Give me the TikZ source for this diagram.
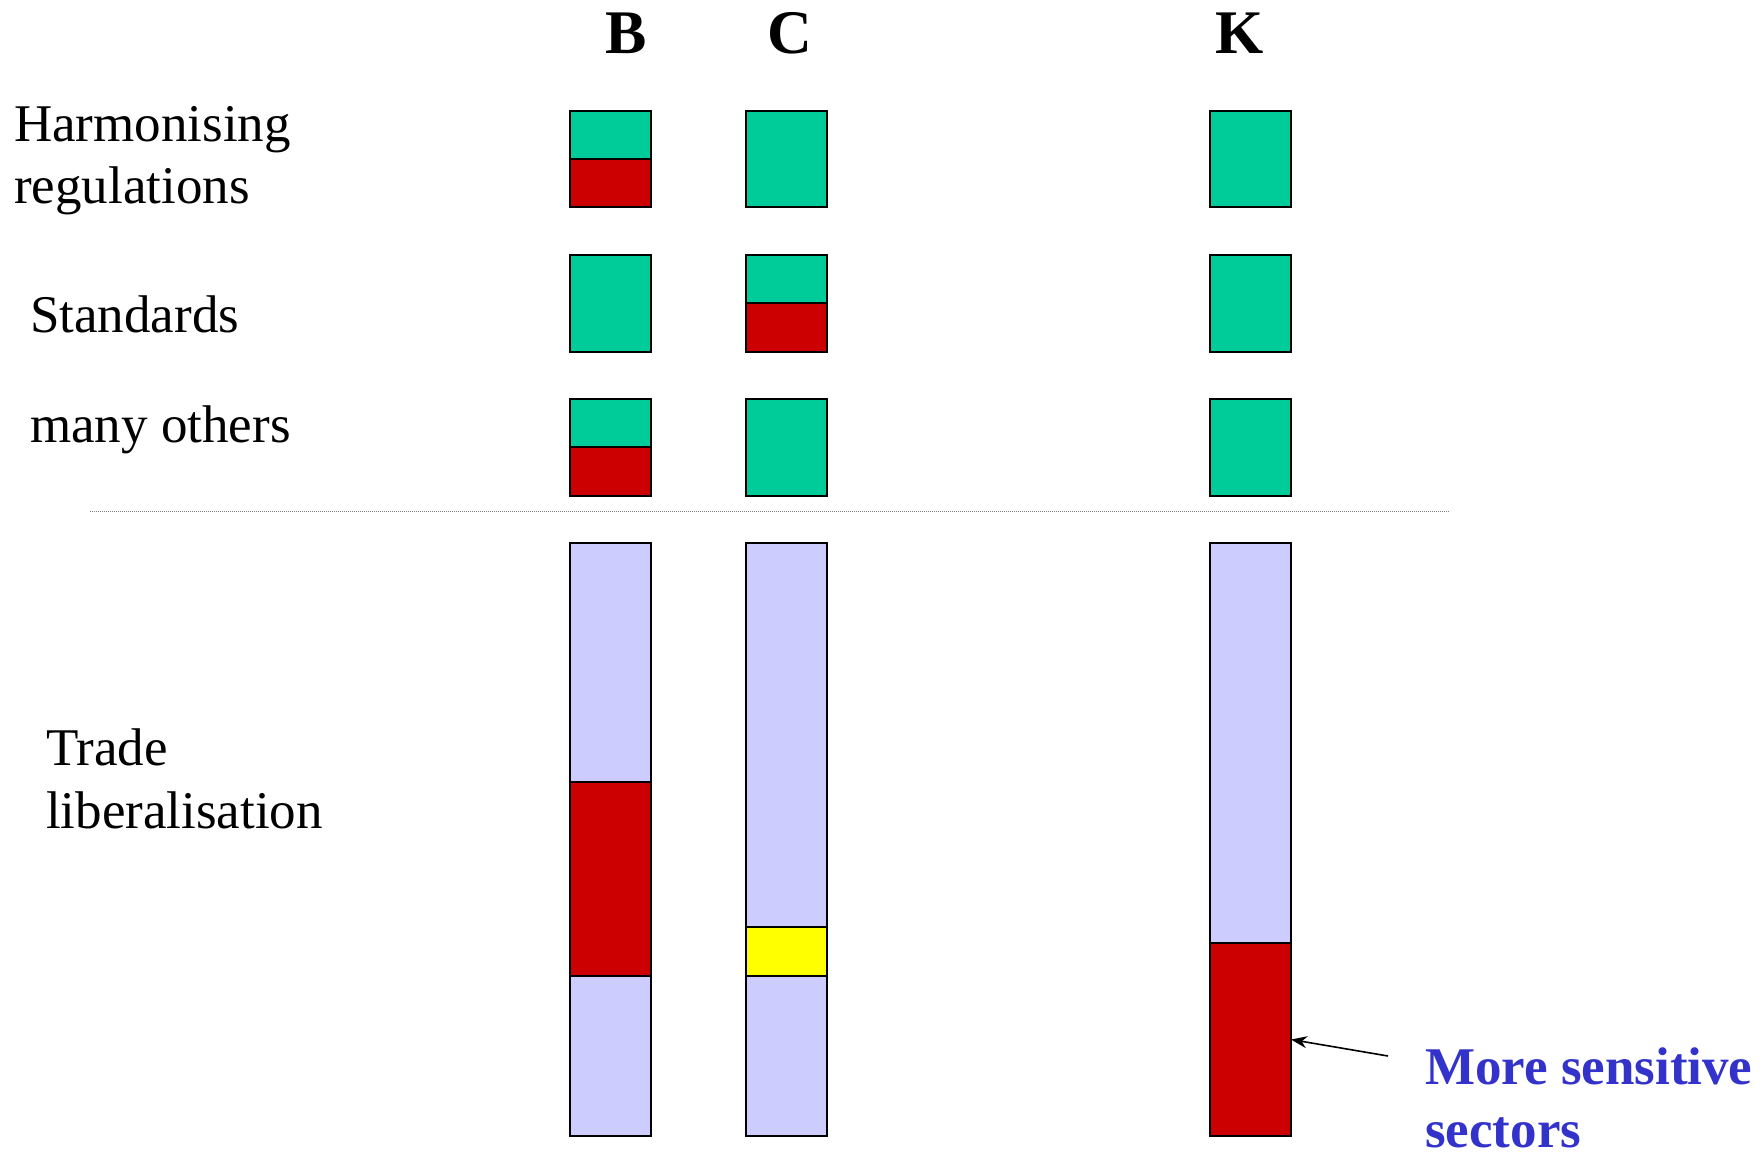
\documentclass[tikz,border=0pt]{standalone}
\usepackage{fontspec}
\setmainfont{Liberation Serif}
\usetikzlibrary{arrows.meta}
\definecolor{tgreen}{HTML}{00CC99}
\definecolor{tred}{HTML}{CC0000}
\definecolor{tlav}{HTML}{CCCCFF}
\definecolor{tyel}{HTML}{FFFF00}
\definecolor{tblue}{HTML}{3333CC}
\begin{document}
\begin{tikzpicture}[x=1pt,y=-1pt,
  bx/.style={draw=black,line width=1.6pt,inner sep=0pt,outer sep=0pt,minimum width=81pt,anchor=north west},
  lbl/.style={anchor=base west,inner sep=0pt,font=\fontsize{53}{62}\selectfont},
  head/.style={anchor=base,inner sep=0pt,font=\fontsize{62}{62}\selectfont\bfseries},
  note/.style={anchor=base west,inner sep=0pt,text=tblue,font=\fontsize{53}{63}\selectfont\bfseries}]
\useasboundingbox (0,0) rectangle (1763,1151);
\fill[white] (0,0) rectangle (1763,1151);
% headings
\node[head] (hB) at (626,53) {B};
\node[head] (hC) at (790,53) {C};
\node[head] (hK) at (1240,53) {K};
% labels
\node[lbl] (l1a) at (14,141) {Harmonising};
\node[lbl] (l1b) at (14,203) {regulations};
\node[lbl] (l2) at (30,332) {Standards};
\node[lbl] (l3) at (30,442) {many others};
\node[lbl] (l4a) at (46,765) {Trade};
\node[lbl] (l4b) at (46,828) {liberalisation};
% row 1
\node[bx,fill=tgreen,minimum height=48pt] (b1t) at (570,111) {};
\node[bx,fill=tred,minimum height=48pt] (b1b) at (570,159) {};
\node[bx,fill=tgreen,minimum height=96pt] (c1) at (746,111) {};
\node[bx,fill=tgreen,minimum height=96pt] (k1) at (1210,111) {};
% row 2
\node[bx,fill=tgreen,minimum height=97pt] (b2) at (570,255) {};
\node[bx,fill=tgreen,minimum height=48pt] (c2t) at (746,255) {};
\node[bx,fill=tred,minimum height=49pt] (c2b) at (746,303) {};
\node[bx,fill=tgreen,minimum height=97pt] (k2) at (1210,255) {};
% row 3
\node[bx,fill=tgreen,minimum height=48pt] (b3t) at (570,399) {};
\node[bx,fill=tred,minimum height=49pt] (b3b) at (570,447) {};
\node[bx,fill=tgreen,minimum height=97pt] (c3) at (746,399) {};
\node[bx,fill=tgreen,minimum height=97pt] (k3) at (1210,399) {};
% separator
\coordinate (sepL) at (90,511.5);
\coordinate (sepR) at (1450,511.5);
\draw[gray,line width=1pt,dash pattern=on 1pt off 1pt] (sepL) -- (sepR);
% trade bars
\node[bx,fill=tlav,minimum height=239pt] (bb1) at (570,543) {};
\node[bx,fill=tred,minimum height=194pt] (bb2) at (570,782) {};
\node[bx,fill=tlav,minimum height=160pt] (bb3) at (570,976) {};
\node[bx,fill=tlav,minimum height=384pt] (cb1) at (746,543) {};
\node[bx,fill=tyel,minimum height=49pt] (cb2) at (746,927) {};
\node[bx,fill=tlav,minimum height=160pt] (cb3) at (746,976) {};
\node[bx,fill=tlav,minimum height=400pt] (kb1) at (1210,543) {};
\node[bx,fill=tred,minimum height=193pt] (kb2) at (1210,943) {};
% note
\node[note] (n1) at (1425,1084) {More sensitive};
\node[note] (n2) at (1425,1147) {sectors};
\coordinate (arrtail) at (1388,1056);
\draw[line width=1.6pt,-{Stealth[length=16pt,width=12pt]}] (arrtail) -- (kb2.east);
\end{tikzpicture}
\end{document}
